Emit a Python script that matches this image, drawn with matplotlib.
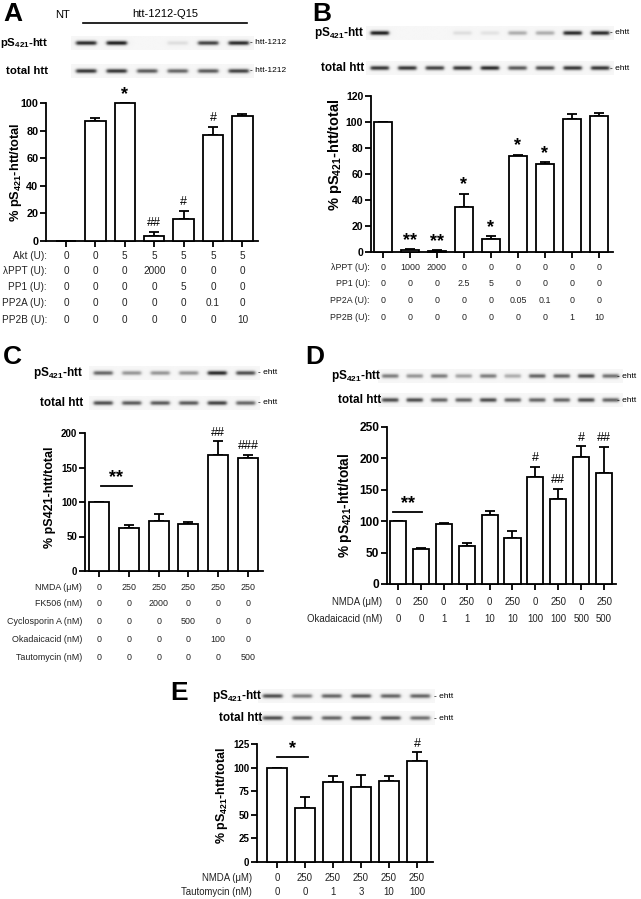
import numpy as np
import matplotlib
matplotlib.use('Agg')
import matplotlib.pyplot as plt
from matplotlib.transforms import blended_transform_factory
from matplotlib.lines import Line2D

plt.rcParams['font.family'] = ['Liberation Sans', 'DejaVu Sans']
plt.rcParams['mathtext.fontset'] = 'custom'
plt.rcParams['mathtext.rm'] = 'Liberation Sans:bold'
plt.rcParams['mathtext.it'] = 'Liberation Sans:bold'
plt.rcParams['mathtext.bf'] = 'Liberation Sans:bold'
plt.rcParams['mathtext.default'] = 'rm'

# ---------------- data ----------------
A_values = [0, 87, 100, 3.5, 16, 76.5, 90.5]
A_err = [0, 2, 0, 3.3, 6, 6, 1.5]
A_marks = ['', '', '*', '##', '#', '#', '']
A_rows = ['Akt (U):', 'λPPT (U):', 'PP1 (U):', 'PP2A (U):', 'PP2B (U):']
A_table = [['0', '0', '5', '5', '5', '5', '5'],
           ['0', '0', '0', '2000', '0', '0', '0'],
           ['0', '0', '0', '0', '5', '0', '0'],
           ['0', '0', '0', '0', '0', '0.1', '0'],
           ['0', '0', '0', '0', '0', '0', '10']]
A_blot_p = [0.85, 0.9, 0.0, 0.1, 0.75, 0.85]
A_blot_t = [0.8, 0.8, 0.65, 0.6, 0.65, 0.75]

B_values = [100, 1.5, 1, 35, 10, 74, 68, 102.5, 105]
B_err = [0, 1, 0.6, 10, 2, 1, 1.5, 3.5, 2]
B_marks = ['', '**', '**', '*', '*', '*', '*', '', '']
B_rows = ['λPPT (U):', 'PP1 (U):', 'PP2A (U):', 'PP2B (U):']
B_table = [['0', '1000', '2000', '0', '0', '0', '0', '0', '0'],
           ['0', '0', '0', '2.5', '5', '0', '0', '0', '0'],
           ['0', '0', '0', '0', '0', '0.05', '0.1', '0', '0'],
           ['0', '0', '0', '0', '0', '0', '0', '1', '10']]
B_blot_p = [0.9, 0.0, 0.0, 0.1, 0.08, 0.3, 0.3, 0.85, 0.85]
B_blot_t = [0.8, 0.8, 0.75, 0.8, 0.85, 0.65, 0.7, 0.8, 0.8]

C_values = [100, 63, 72, 68.5, 168, 164]
C_err = [0, 3, 10, 3, 20, 4]
C_marks = ['', '', '', '', '##', '###']
C_rows = ['NMDA (μM)', 'FK506 (nM)', 'Cyclosporin A (nM)', 'Okadaicacid (nM)', 'Tautomycin (nM)']
C_table = [['0', '250', '250', '250', '250', '250'],
           ['0', '0', '2000', '0', '0', '0'],
           ['0', '0', '0', '500', '0', '0'],
           ['0', '0', '0', '0', '100', '0'],
           ['0', '0', '0', '0', '0', '500']]
C_blot_p = [0.6, 0.4, 0.4, 0.4, 0.85, 0.7]
C_blot_t = [0.7, 0.65, 0.65, 0.65, 0.75, 0.6]

D_values = [100, 55, 96, 60, 110, 73, 170, 136, 203, 176]
D_err = [0, 2.5, 1, 5, 6, 11, 17, 16, 16, 42]
D_marks = ['', '', '', '', '', '', '#', '##', '#', '##']
D_rows = ['NMDA (μM)', 'Okadaicacid (nM)']
D_table = [['0', '250', '0', '250', '0', '250', '0', '250', '0', '250'],
           ['0', '0', '1', '1', '10', '10', '100', '100', '500', '500']]
D_blot_p = [0.5, 0.4, 0.5, 0.35, 0.5, 0.3, 0.6, 0.6, 0.7, 0.55]
D_blot_t = [0.7, 0.7, 0.6, 0.6, 0.7, 0.6, 0.6, 0.6, 0.7, 0.6]

E_values = [100, 57, 85, 79, 86, 107]
E_err = [0, 12, 6, 13, 5, 9]
E_marks = ['', '', '', '', '', '#']
E_rows = ['NMDA (μM)', 'Tautomycin (nM)']
E_table = [['0', '250', '250', '250', '250', '250'],
           ['0', '0', '1', '3', '10', '100']]
E_blot_p = [0.7, 0.5, 0.6, 0.65, 0.6, 0.6]
E_blot_t = [0.7, 0.6, 0.6, 0.65, 0.65, 0.55]

# ---------------- helpers ----------------
W, H = 641, 899
fig = plt.figure(figsize=(W / 100, H / 100), dpi=100)
LW = 1.3


def fx(px):
    return px / W


def fy(py):
    return 1 - py / H


def px_axes(x0, y0, x1, y1):
    return fig.add_axes([x0 / W, 1 - y1 / H, (x1 - x0) / W, (y1 - y0) / H])


def bar_panel(box, xlim, ylim, yticks, values, errs, marks, width, tick_fs):
    ax = px_axes(*box)
    x = np.arange(len(values))
    ax.bar(x, values, width, color='white', edgecolor='black', linewidth=LW,
           zorder=3, clip_on=False)
    ax.errorbar(x, values, yerr=[np.zeros(len(values)), errs], fmt='none',
                ecolor='black', elinewidth=LW, capsize=3.5, capthick=LW,
                zorder=2, clip_on=False)
    for xi, v, e, m in zip(x, values, errs, marks):
        if m:
            star = m.startswith('*')
            ax.annotate(m, xy=(xi, v + e), xytext=(0, 0 if star else 2),
                        textcoords='offset points', ha='center', va='bottom',
                        fontsize=13 if star else 9,
                        fontweight='bold' if star else 'normal',
                        annotation_clip=False)
    ax.set_xlim(*xlim)
    ax.set_ylim(*ylim)
    ax.set_yticks(yticks)
    ax.set_xticks(x)
    ax.set_xticklabels([])
    for s in ['top', 'right']:
        ax.spines[s].set_visible(False)
    for s in ['left', 'bottom']:
        ax.spines[s].set_linewidth(LW)
    ax.tick_params(direction='out', length=4, width=LW, pad=1.5, labelsize=tick_fs)
    for lab in ax.get_yticklabels():
        lab.set_fontweight('bold')
    ax.patch.set_alpha(0)
    return ax


def table(ax, labels, rows, ys, xright, fs):
    tr = blended_transform_factory(ax.transData, fig.transFigure)
    for lab, vals, y in zip(labels, rows, ys):
        fig.text(fx(xright), fy(y), lab, ha='right', va='center', fontsize=fs,
                 color='#222222')
        for i, v in enumerate(vals):
            ax.text(i, fy(y), v, transform=tr, ha='center', va='center',
                    fontsize=fs, color='#222222', clip_on=False)


def blot(x_first, x_last, yc, inten, h=14):
    n = len(inten)
    s = (x_last - x_first) / (n - 1)
    x0, x1 = x_first - s / 2, x_last + s / 2
    ax = px_axes(x0, yc - h / 2, x1, yc + h / 2)
    cols, rows = n * 40, 40
    xx = (np.arange(cols) + 0.5) / 40 - 0.5
    yy = (np.arange(rows) + 0.5) / rows * h - h / 2
    img = np.full((rows, cols), 0.965)
    vprof = np.exp(-0.5 * (yy / 1.5) ** 2)
    for i, v in enumerate(inten):
        d = np.abs(xx - i)
        hprof = 1 / (1 + np.exp((d - 0.33) / 0.03))
        img -= 0.95 * v * np.outer(vprof, hprof)
    img = np.clip(img, 0, 1)
    ax.imshow(img, cmap='gray', vmin=0, vmax=1, aspect='auto',
              extent=(-0.5, n - 0.5, h / 2, -h / 2), interpolation='bilinear')
    ax.axis('off')


def blot_labels(xright, yp, yt, xtag, tag, fs=8.5):
    fig.text(fx(xright), fy(yp), r'pS$_{421}$-htt', ha='right', va='center',
             fontsize=fs, fontweight='bold')
    fig.text(fx(xright), fy(yt), 'total htt', ha='right', va='center',
             fontsize=fs, fontweight='bold')
    fig.text(fx(xtag), fy(yp), '- ' + tag, ha='left', va='center', fontsize=6)
    fig.text(fx(xtag), fy(yt), '- ' + tag, ha='left', va='center', fontsize=6)


def ylabel(x, y, s, fs):
    fig.text(fx(x), fy(y), s, rotation=90, ha='center', va='center',
             fontsize=fs, fontweight='bold')


def letter(x, y, s):
    fig.text(fx(x), fy(y), s, ha='center', va='center', fontsize=19,
             fontweight='bold')


def sig(ax, x0, x1, y, s):
    ax.plot([x0, x1], [y, y], color='black', lw=LW, clip_on=False)
    ax.annotate(s, xy=((x0 + x1) / 2, y), xytext=(0, 0), textcoords='offset points',
                ha='center', va='bottom', fontsize=13, fontweight='bold',
                annotation_clip=False)


# ---------------- panel A ----------------
letter(13, 14, 'A')
fig.text(fx(63), fy(15), 'NT', ha='center', va='center', fontsize=8)
fig.text(fx(165), fy(14), 'htt-1212-Q15', ha='center', va='center', fontsize=8)
fig.add_artist(Line2D([fx(83), fx(247)], [fy(23), fy(23)], color='black', lw=1.2))
blot(86, 238, 43, A_blot_p)
blot(86, 238, 71, A_blot_t)
blot_labels(48, 43, 71, 250, 'htt-1212', fs=8.2)
axA = bar_panel((46, 103, 258, 241), (-0.68, 6.53), (0, 100), np.arange(0, 101, 20),
                A_values, A_err, A_marks, 0.7, 7.8)
ylabel(16, 172, r'% pS$_{421}$-htt/total', 9.3)
table(axA, A_rows, A_table, [256, 271, 287, 303, 320], 47, 7.2)

# ---------------- panel B ----------------
letter(322, 14, 'B')
blot(380, 600, 33, B_blot_p)
blot(380, 600, 68, B_blot_t)
blot_labels(364, 33, 68, 610, 'ehtt')
axB = bar_panel((371, 96, 613, 252), (-0.44, 8.52), (0, 120), np.arange(0, 121, 20),
                B_values, B_err, B_marks, 0.67, 7.6)
ylabel(335, 155, r'% pS$_{421}$-htt/total', 10.5)
table(axB, B_rows, B_table, [268, 284, 301, 317], 370, 6.4)

# ---------------- panel C ----------------
letter(12, 357, 'C')
blot(103, 245, 373, C_blot_p)
blot(103, 245, 403, C_blot_t)
blot_labels(83, 373, 403, 258, 'ehtt')
axC = bar_panel((85, 433, 263, 571), (-0.47, 5.5), (0, 200), np.arange(0, 201, 50),
                C_values, C_err, C_marks, 0.67, 7.0)
sig(axC, 0.05, 1.1, 123.5, '**')
ylabel(50, 497, '% pS421-htt/total', 9.0)
table(axC, C_rows, C_table, [587, 603, 621, 639, 657], 82, 6.4)

# ---------------- panel D ----------------
letter(315, 357, 'D')
blot(390, 610, 376, D_blot_p)
blot(390, 610, 400, D_blot_t)
blot_labels(381, 376, 400, 617, 'ehtt')
axD = bar_panel((387, 427, 616, 584), (-0.48, 9.52), (0, 250), np.arange(0, 251, 50),
                D_values, D_err, D_marks, 0.7, 8.6)
sig(axD, -0.2, 1.05, 115, '**')
ylabel(345, 505, r'% pS$_{421}$-htt/total', 9.8)
table(axD, D_rows, D_table, [602, 619], 382, 6.9)

# ---------------- panel E ----------------
letter(179, 693, 'E')
blot(273, 420, 696, E_blot_p)
blot(273, 420, 718, E_blot_t)
blot_labels(262, 696, 718, 434, 'ehtt')
axE = bar_panel((257, 744, 433, 862), (-0.71, 5.57), (0, 125), np.arange(0, 126, 25),
                E_values, E_err, E_marks, 0.71, 7.0)
sig(axE, 0.0, 1.1, 111, '*')
ylabel(222, 796, r'% pS$_{421}$-htt/total', 9.0)
table(axE, E_rows, E_table, [878, 892], 252, 6.9)

fig.savefig('out.png', dpi=100)
